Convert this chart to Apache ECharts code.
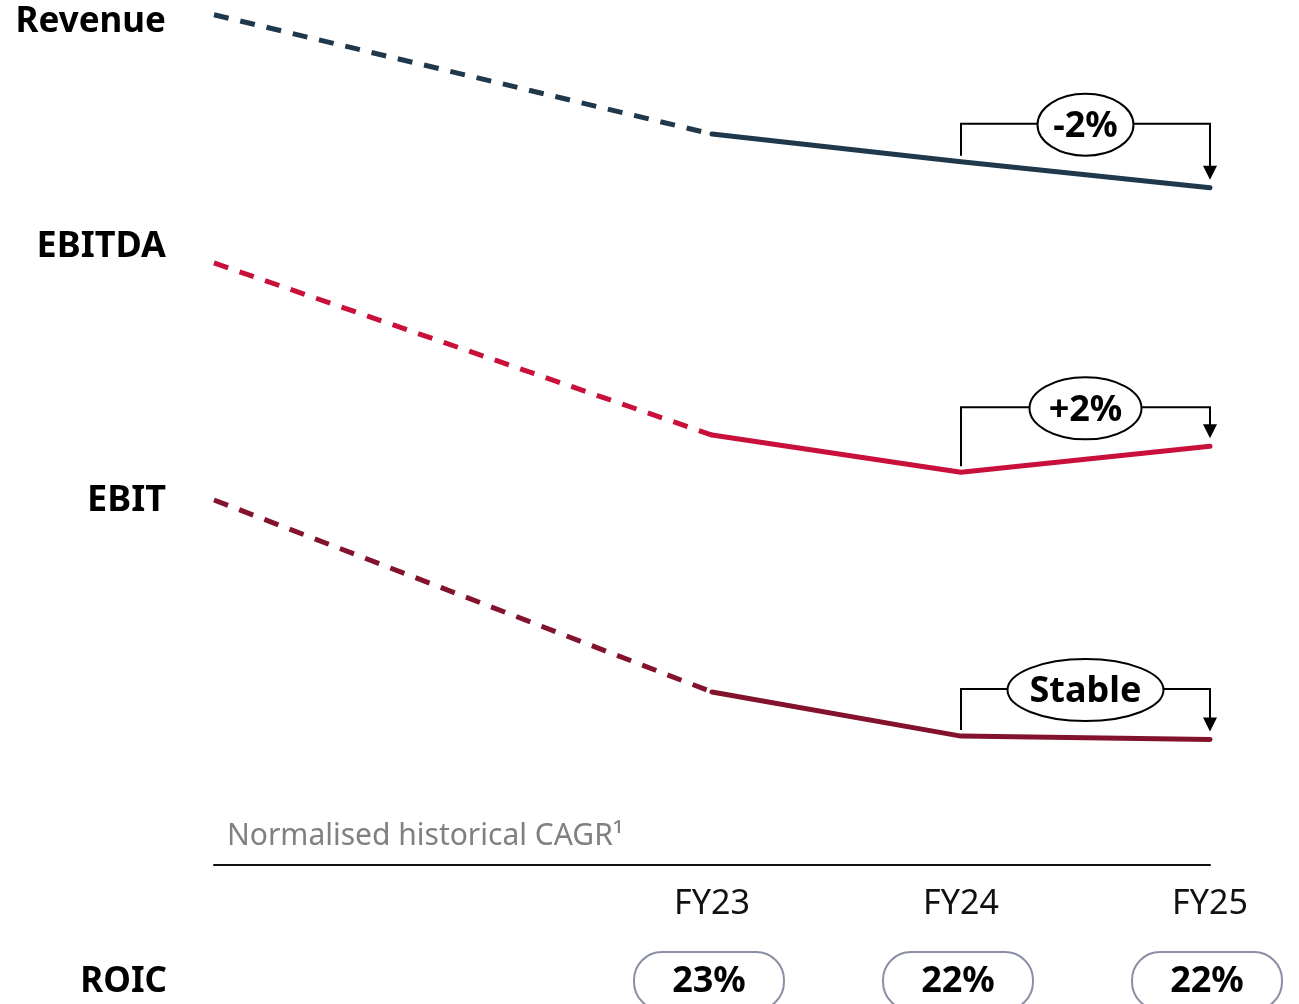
<!DOCTYPE html>
<html>
<head>
<meta charset="utf-8">
<script src="https://cdn.jsdelivr.net/npm/echarts@6/dist/echarts.min.js"></script>
<style>
html,body{margin:0;padding:0;background:#fff;}
#chart{width:1299px;height:1004px;}
</style>
</head>
<body>
<div id="chart"></div>
<script>
// x positions: -2 = start of normalised history, 0..2 = FY23..FY25
const xValues = [-2, 0, 1, 2];
const periodLabels = ['', 'FY23', 'FY24', 'FY25'];
const metricNames = ['Revenue', 'EBITDA', 'EBIT'];
const revenue = [98.3, 84.5, 81.3, 78.3];
const ebitda  = [69.6, 49.7, 45.4, 48.4];
const ebit    = [42.2, 20.0, 14.9, 14.5];
const changeLabels = ['-2%', '+2%', 'Stable'];
const roicLabel = 'ROIC';
const roicValues = ['23%', '22%', '22%'];
const historyNote = 'Normalised historical CAGR\u00B9';

const colors = ['#1f384b', '#c8103a', '#83132c'];
const seriesData = [revenue, ebitda, ebit];
const FONT = '"Noto Sans", sans-serif';

const chart = echarts.init(document.getElementById('chart'), null, {renderer: 'canvas'});

const series = [];
seriesData.forEach((vals, i) => {
  series.push({
    name: metricNames[i] + ' history', type: 'line', symbol: 'none', silent: true,
    data: [[xValues[0], vals[0]], [xValues[1], vals[1]]],
    lineStyle: {color: colors[i], width: 5, type: [15, 12]}
  });
  series.push({
    name: metricNames[i], type: 'line', symbol: 'none', silent: true,
    data: xValues.slice(1).map((x, k) => [x, vals[k + 1]]),
    lineStyle: {color: colors[i], width: 5, cap: 'round', join: 'round'}
  });
});

chart.setOption({
  animation: false,
  grid: {left: 214, right: 89, top: 0, bottom: 139, containLabel: false},
  xAxis: {
    type: 'value', min: -2, max: 2, interval: 1,
    axisLine: {show: true, onZero: false, lineStyle: {color: '#111', width: 2}},
    axisTick: {show: false}, splitLine: {show: false},
    axisLabel: {
      margin: 22, fontFamily: FONT, fontSize: 34, color: '#111',
      formatter: v => { const k = xValues.indexOf(v); return k >= 0 ? periodLabels[k] : ''; }
    }
  },
  yAxis: {type: 'value', min: 0, max: 100, show: false},
  series: series
});

const toPx = (x, y) => chart.convertToPixel({xAxisIndex: 0, yAxisIndex: 0}, [x, y]);
const g = [];

// metric labels (left)
const labelY = [22, 247, 501];
const labelSize = [35, 36, 36];
metricNames.forEach((n, i) => {
  g.push({type: 'text', x: 166, y: labelY[i], style: {
    text: n, font: 'bold ' + labelSize[i] + 'px ' + FONT, fill: '#000', align: 'right', verticalAlign: 'middle'}});
});
g.push({type: 'text', x: 167, y: 982, style: {
  text: roicLabel, font: 'bold 35px ' + FONT, fill: '#000', align: 'right', verticalAlign: 'middle'}});

// note
g.push({type: 'text', x: 227, y: 836, style: {
  text: historyNote, font: '30px ' + FONT, fill: '#808080', align: 'left', verticalAlign: 'middle'}});

// change brackets
const offsets = [38, 39, 47];
const ellW = [48, 56, 78];
seriesData.forEach((vals, i) => {
  const p24 = toPx(xValues[2], vals[2]);
  const p25 = toPx(xValues[3], vals[3]);
  const top = Math.min(p24[1], p25[1]) - offsets[i];
  const bx0 = p24[0], bx1 = p25[0];
  const tip = p25[1] - 8;
  const cx = (bx0 + bx1) / 2;
  g.push({type: 'polyline', z: 10, shape: {points: [[bx0, p24[1] - 6], [bx0, top], [bx1, top], [bx1, tip - 13]]},
    style: {stroke: '#000', lineWidth: 2, fill: null}});
  g.push({type: 'polygon', z: 10, shape: {points: [[bx1 - 7, tip - 14], [bx1 + 7, tip - 14], [bx1, tip]]},
    style: {fill: '#000'}});
  g.push({type: 'ellipse', z: 11, shape: {cx: cx, cy: top + 1, rx: ellW[i], ry: 31},
    style: {fill: '#fff', stroke: '#000', lineWidth: 2}});
  g.push({type: 'text', z: 12, x: cx, y: top + 3, style: {
    text: changeLabels[i], font: 'bold 36px ' + FONT, fill: '#000', align: 'center', verticalAlign: 'middle'}});
});

// ROIC pills
roicValues.forEach((v, k) => {
  const p = toPx(xValues[k + 1], 0);
  g.push({type: 'rect', z: 10, shape: {x: p[0] - 78, y: 952, width: 150, height: 58, r: 28},
    style: {fill: '#fff', stroke: '#8a8fa6', lineWidth: 2}});
  g.push({type: 'text', z: 11, x: p[0] - 3, y: 982, style: {
    text: v, font: 'bold 36px ' + FONT, fill: '#000', align: 'center', verticalAlign: 'middle'}});
});

chart.setOption({graphic: {elements: g}});
</script>
</body>
</html>
